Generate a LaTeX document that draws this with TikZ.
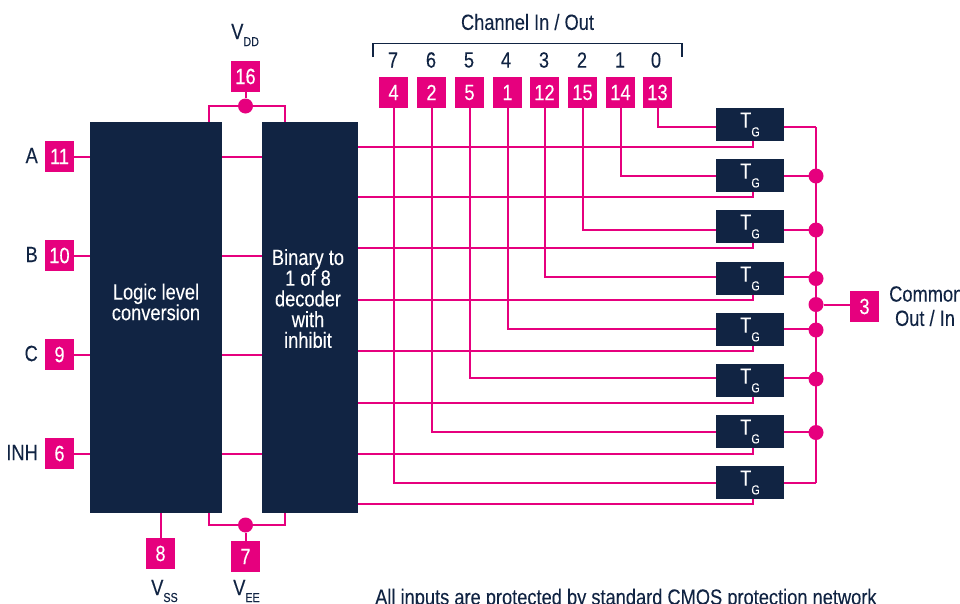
\documentclass[tikz,border=0pt]{standalone}
\usepackage{fontspec}
\setmainfont[FakeStretch=0.83,FakeBold=0.15]{Liberation Sans}
\definecolor{navy}{HTML}{112443}
\definecolor{pink}{HTML}{E6007E}
\newcommand{\lowtext}[2][7pt]{{\fontsize{13}{13}\selectfont\raisebox{-#1}{#2}}}
\newcommand{\txtsize}{\fontsize{22}{20.7}\selectfont}
\tikzset{
  wire/.style={draw=pink,line width=2pt},
  bracket/.style={draw=navy,line width=1.6pt},
  pin/.style={fill=pink,text=white,minimum width=29pt,minimum height=31pt,inner sep=0pt,font=\txtsize},
  block/.style={fill=navy,text=white,inner sep=0pt,font=\txtsize,align=center},
  tg/.style={fill=navy,text=white,minimum width=68pt,minimum height=33pt,inner sep=0pt,font=\txtsize},
  dot/.style={circle,fill=pink,minimum size=15pt,inner sep=0pt},
  lbl/.style={text=navy,inner sep=0pt,font=\txtsize,align=center}
}
\begin{document}
\begin{tikzpicture}[x=1pt,y=-1pt]
\useasboundingbox (0,0) rectangle (960,603);
\clip (0,0) rectangle (960,603);
% blocks
\node[block,minimum width=132pt,minimum height=391pt] (logic) at (156,317.5) {};
\node[block,minimum width=96pt,minimum height=391pt] (dec) at (310,317.5) {};
\node[block,fill=none] (logictxt) at (156,302) {Logic level\\conversion};
\node[block,fill=none] (dectxt) at (308,298.5) {Binary to\\1 of 8\\decoder\\with\\inhibit};
% left pins
\foreach \n/\y/\t in {11/156.5/A,10/255.5/B,9/354.5/C,6/453.5/INH}{
  \node[pin] (p\n) at (59.5,\y) {\n};
  \node[lbl,anchor=east] (l\n) at (38,\y-1) {\t};
  \draw[wire] (p\n.east) -- (p\n.east -| logic.west);
  \draw[wire] (p\n.east -| logic.east) -- (p\n.east -| dec.west);
}
% supply pins
\node[pin] (p16) at (245.5,76.5) {16};
\node[pin] (p7) at (245.5,556.5) {7};
\node[pin] (p8) at (160.5,553.5) {8};
\node[dot] (dt) at (245.5,106) {};
\node[dot] (db) at (245.5,525) {};
\coordinate (tl) at (208.5,105.5);
\coordinate (tr) at (284.5,105.5);
\coordinate (bl) at (208.5,525);
\coordinate (br) at (284.5,525);
\draw[wire] (p16.south) -- (dt);
\draw[wire] (tl |- logic.north) -- (tl) -- (tr) -- (tr |- dec.north);
\draw[wire] (p7.north) -- (db);
\draw[wire] (bl |- logic.south) -- (bl) -- (br) -- (br |- dec.south);
\draw[wire] (p8.north) -- (p8.north |- logic.south);
\node[lbl,anchor=west] (vdd) at (231,35) {V\lowtext{DD}};
\node[lbl,anchor=west] (vss) at (151,591) {V\lowtext{SS}};
\node[lbl,anchor=west] (vee) at (233,591) {V\lowtext{EE}};
% transmission gates, channel pins, control lines
\foreach \i/\pn/\x/\ty/\iy/\cy/\num/\nx in {
  0/13/657.5/124.5/127/146.5/0/656,
  1/14/620.5/175.5/176/196.5/1/620,
  2/15/582.5/226.5/230/248/2/582,
  3/12/544.5/278.5/277/299.5/3/544,
  4/1/507.5/329.5/329/351/4/506,
  5/5/469.5/380.5/378/403/5/469,
  6/2/431.5/431.5/432/454/6/431,
  7/4/393.5/482.5/482.5/504/7/393}{
  \node[pin] (c\pn) at (\x,92.5) {\pn};
  \node[lbl] (n\i) at (\nx,60) {\num};
  \node[tg] (t\i) at (750,\ty) {T\lowtext[8.7pt]{G}};
  \coordinate (in\i) at (716,\iy);
  \coordinate (ct\i) at (753,\cy);
  \coordinate (out\i) at (816,\iy);
  \draw[wire] (c\pn.south) |- (in\i);
  \draw[wire] (dec.east |- ct\i) -- (ct\i) -- (ct\i |- t\i.south);
  \draw[wire] (t\i.east |- in\i) -- (out\i);
}
% common bus
\draw[wire] (out0) -- (out7);
\node[dot] (d1) at (816,176) {};
\node[dot] (d2) at (816,230) {};
\node[dot] (d3) at (816,278.5) {};
\node[dot] (dc) at (816,304.5) {};
\node[dot] (d4) at (816,330) {};
\node[dot] (d5) at (816,379) {};
\node[dot] (d6) at (816,432.5) {};
\node[pin] (p3) at (864.5,306.5) {3};
\coordinate (c3) at (850,304.5);
\draw[wire] (dc) -- (c3);
\node[lbl,anchor=west] (common) at (889,294) {Common};
\node[lbl] (outin) at (925,318) {Out / In};
% channel bracket
\coordinate (bra) at (373,57);
\coordinate (brb) at (373,43.5);
\coordinate (brc) at (682,43.5);
\coordinate (brd) at (682,57);
\draw[bracket] (bra) -- (brb) -- (brc) -- (brd);
\node[lbl] (chan) at (527.5,22) {Channel In / Out};
\node[lbl,anchor=west] (note) at (375,599) {All inputs are protected by standard CMOS protection network};
\end{tikzpicture}
\end{document}
